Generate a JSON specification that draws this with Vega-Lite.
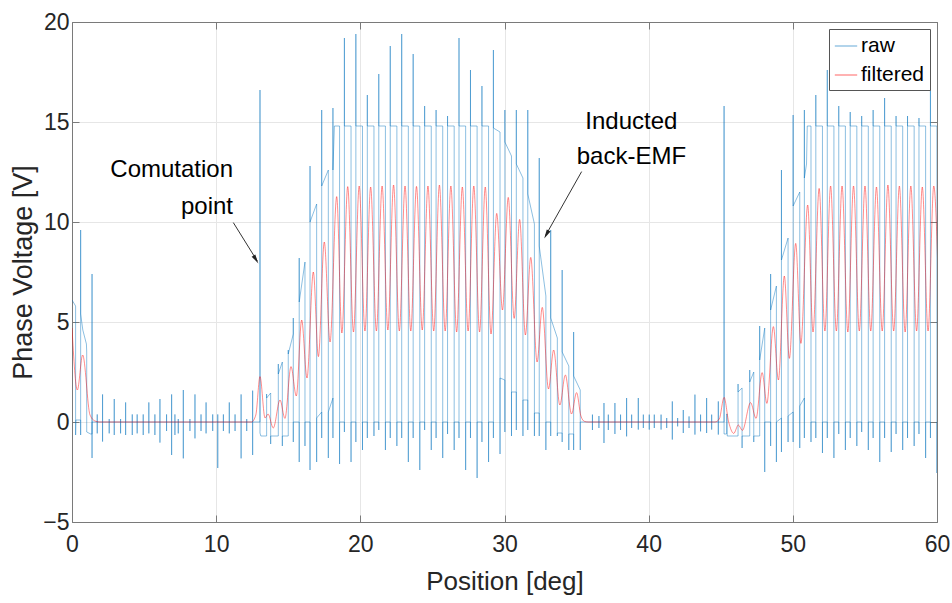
{
"$schema": "https://vega.github.io/schema/vega-lite/v6.json",
"width": 865, "height": 500,
"autosize": {"type": "none"},
"padding": {"left": 72, "top": 22, "right": 15, "bottom": 81},
"background": "white",
"datasets": {
"raw": [
{"x":0,"y":6.1},{"x":0.25,"y":5.8},{"x":0.25,"y":-0.65},{"x":0.27,"y":0.1},{"x":0.6,"y":0.1},{"x":0.6,"y":-0.65},{"x":0.6,"y":9.6},{"x":0.6,"y":5.4},{"x":0.75,"y":4.6},{"x":1.0,"y":3.9},{"x":1.02,"y":3.5},{"x":1.02,"y":-0.5},{"x":1.3,"y":-0.6},{"x":1.39,"y":-0.6},{"x":1.39,"y":7.4},{"x":1.39,"y":-1.8},{"x":1.39,"y":0},
{"x":1.75,"y":0},{"x":1.75,"y":0.38},{"x":1.75,"y":-0.57},{"x":1.75,"y":0},
{"x":2.12,"y":0},{"x":2.12,"y":1.38},{"x":2.12,"y":-0.98},{"x":2.12,"y":0},
{"x":2.58,"y":0},{"x":2.58,"y":0.15},{"x":2.58,"y":-0.57},{"x":2.58,"y":0},
{"x":2.93,"y":0},{"x":2.93,"y":1.15},{"x":2.93,"y":-0.65},{"x":2.93,"y":0},
{"x":3.37,"y":0},{"x":3.37,"y":0.15},{"x":3.37,"y":-0.57},{"x":3.37,"y":0},
{"x":3.72,"y":0},{"x":3.72,"y":0.98},{"x":3.72,"y":-0.65},{"x":3.72,"y":0},
{"x":4.18,"y":0},{"x":4.18,"y":0.38},{"x":4.18,"y":-0.65},{"x":4.18,"y":0},
{"x":4.52,"y":0},{"x":4.52,"y":0.38},{"x":4.52,"y":-0.57},{"x":4.52,"y":0},
{"x":4.94,"y":0},{"x":4.94,"y":0.38},{"x":4.94,"y":-0.65},{"x":4.94,"y":0},
{"x":5.33,"y":0},{"x":5.33,"y":0.98},{"x":5.33,"y":-0.57},{"x":5.33,"y":0},
{"x":5.75,"y":0},{"x":5.75,"y":0.38},{"x":5.75,"y":-0.65},{"x":5.75,"y":0},
{"x":6.1,"y":0},{"x":6.1,"y":1.15},{"x":6.1,"y":-1.03},{"x":6.1,"y":0},
{"x":6.56,"y":0},{"x":6.56,"y":0.38},{"x":6.56,"y":-0.45},{"x":6.56,"y":0},
{"x":6.91,"y":0},{"x":6.91,"y":1.38},{"x":6.91,"y":-1.65},{"x":6.91,"y":0},
{"x":7.14,"y":0},{"x":7.14,"y":0.38},{"x":7.14,"y":-0.65},{"x":7.14,"y":0},
{"x":7.37,"y":0},{"x":7.37,"y":0.15},{"x":7.37,"y":-0.57},{"x":7.37,"y":0},
{"x":7.72,"y":0},{"x":7.72,"y":1.6},{"x":7.72,"y":-1.82},{"x":7.72,"y":0},
{"x":8.18,"y":0},{"x":8.18,"y":0.15},{"x":8.18,"y":-0.45},{"x":8.18,"y":0},
{"x":8.53,"y":0},{"x":8.53,"y":1.38},{"x":8.53,"y":-0.82},{"x":8.53,"y":0},
{"x":8.95,"y":0},{"x":8.95,"y":0.38},{"x":8.95,"y":-0.45},{"x":8.95,"y":0},
{"x":9.3,"y":0},{"x":9.3,"y":0.98},{"x":9.3,"y":-0.57},{"x":9.3,"y":0},
{"x":9.76,"y":0},{"x":9.76,"y":0.38},{"x":9.76,"y":-0.45},{"x":9.76,"y":0},
{"x":10.11,"y":0},{"x":10.11,"y":0.38},{"x":10.11,"y":-2.3},{"x":10.11,"y":0},
{"x":10.5,"y":0},{"x":10.5,"y":0.38},{"x":10.5,"y":-0.45},{"x":10.5,"y":0},
{"x":10.91,"y":0},{"x":10.91,"y":0.98},{"x":10.91,"y":-0.57},{"x":10.91,"y":0},
{"x":11.31,"y":0},{"x":11.31,"y":0.38},{"x":11.31,"y":-0.45},{"x":11.31,"y":0},
{"x":11.73,"y":0},{"x":11.73,"y":1.38},{"x":11.73,"y":-1.82},{"x":11.73,"y":0},
{"x":12.12,"y":0},{"x":12.12,"y":0.15},{"x":12.12,"y":-0.45},{"x":12.12,"y":0},
{"x":12.53,"y":0},{"x":12.53,"y":1.57},{"x":12.53,"y":-1.65},{"x":12.53,"y":0},
{"x":13.04,"y":0},{"x":13.04,"y":16.6},{"x":13.04,"y":-0.55},{"x":13.1,"y":-0.7},{"x":13.5,"y":-0.7},
{"x":13.5,"y":1.4},{"x":13.5,"y":1.2},{"x":13.78,"y":1.45},{"x":13.78,"y":-1.1},{"x":13.78,"y":-0.7},{"x":14.31,"y":-0.7},
{"x":14.31,"y":2.9},{"x":14.31,"y":2.4},{"x":14.59,"y":3.0},{"x":14.59,"y":-1.2},{"x":14.59,"y":-0.7},{"x":15.0,"y":-0.7},
{"x":15.0,"y":3.6},{"x":15.0,"y":3.4},{"x":15.35,"y":4.4},{"x":15.35,"y":5.2},{"x":15.35,"y":-1.0},{"x":15.35,"y":0},{"x":15.76,"y":0},
{"x":15.76,"y":-2.0},{"x":15.76,"y":8.2},{"x":15.76,"y":6.0},{"x":16.16,"y":8.0},{"x":16.16,"y":-1.2},{"x":16.16,"y":0},{"x":16.51,"y":0},
{"x":16.51,"y":-2.4},{"x":16.51,"y":12.8},{"x":16.51,"y":10.0},{"x":16.97,"y":10.9},{"x":16.97,"y":-2.0},{"x":16.97,"y":0.2},{"x":17.32,"y":0.5},
{"x":17.32,"y":-0.8},{"x":17.32,"y":15.6},{"x":17.32,"y":11.8},{"x":17.78,"y":12.6},{"x":17.78,"y":-1.8},{"x":17.78,"y":0.5},{"x":18.1,"y":1.2},
{"x":18.1,"y":-0.8},{"x":18.1,"y":15.7},{"x":18.1,"y":12.6},{"x":18.2,"y":14.8},{"x":18.56,"y":14.8},{"x":18.56,"y":-2.1},{"x":18.56,"y":0},
{"x":18.895,"y":0},{"x":18.895,"y":-0.5},{"x":18.895,"y":19.2},{"x":18.895,"y":14.8},{"x":19.355,"y":14.8},{"x":19.355,"y":-2.0},{"x":19.355,"y":0},
{"x":19.69,"y":0},{"x":19.69,"y":-1.0},{"x":19.69,"y":19.4},{"x":19.69,"y":14.8},{"x":20.15,"y":14.8},{"x":20.15,"y":-1.4},{"x":20.15,"y":0},
{"x":20.485,"y":0},{"x":20.485,"y":-0.8},{"x":20.485,"y":16.35},{"x":20.485,"y":14.8},{"x":20.945,"y":14.8},{"x":20.945,"y":-0.7},{"x":20.945,"y":0},
{"x":21.28,"y":0},{"x":21.28,"y":-0.4},{"x":21.28,"y":17.4},{"x":21.28,"y":14.8},{"x":21.74,"y":14.8},{"x":21.74,"y":-1.4},{"x":21.74,"y":0},
{"x":22.075,"y":0},{"x":22.075,"y":-0.8},{"x":22.075,"y":18.8},{"x":22.075,"y":14.8},{"x":22.535,"y":14.8},{"x":22.535,"y":-1.2},{"x":22.535,"y":0},
{"x":22.87,"y":0},{"x":22.87,"y":-0.8},{"x":22.87,"y":19.4},{"x":22.87,"y":14.8},{"x":23.33,"y":14.8},{"x":23.33,"y":-2.0},{"x":23.33,"y":0},
{"x":23.665,"y":0},{"x":23.665,"y":-0.8},{"x":23.665,"y":18.4},{"x":23.665,"y":14.8},{"x":24.125,"y":14.8},{"x":24.125,"y":-2.4},{"x":24.125,"y":0},
{"x":24.46,"y":0},{"x":24.46,"y":-0.4},{"x":24.46,"y":15.8},{"x":24.46,"y":14.8},{"x":24.92,"y":14.8},{"x":24.92,"y":-1.4},{"x":24.92,"y":0},
{"x":25.255,"y":0},{"x":25.255,"y":-0.8},{"x":25.255,"y":15.6},{"x":25.255,"y":14.8},{"x":25.715,"y":14.8},{"x":25.715,"y":-1.8},{"x":25.715,"y":0},
{"x":26.05,"y":0},{"x":26.05,"y":-0.6},{"x":26.05,"y":15.3},{"x":26.05,"y":14.8},{"x":26.51,"y":14.8},{"x":26.51,"y":-1.4},{"x":26.51,"y":0},
{"x":26.845,"y":0},{"x":26.845,"y":-0.8},{"x":26.845,"y":19.2},{"x":26.845,"y":14.8},{"x":27.305,"y":14.8},{"x":27.305,"y":-2.4},{"x":27.305,"y":0},
{"x":27.64,"y":0},{"x":27.64,"y":-0.8},{"x":27.64,"y":17.6},{"x":27.64,"y":14.8},{"x":28.1,"y":14.8},{"x":28.1,"y":-2.8},{"x":28.1,"y":0},
{"x":28.435,"y":0},{"x":28.435,"y":-1.0},{"x":28.435,"y":16.8},{"x":28.435,"y":14.8},{"x":28.895,"y":14.8},{"x":28.895,"y":-2.0},{"x":28.895,"y":0},
{"x":29.23,"y":0},{"x":29.23,"y":-0.8},{"x":29.23,"y":18.6},{"x":29.23,"y":14.7},{"x":29.69,"y":14.5},{"x":29.69,"y":-1.6},{"x":29.69,"y":2.2},{"x":30.025,"y":2.1},
{"x":30.025,"y":-0.5},{"x":30.025,"y":15.6},{"x":30.025,"y":14.0},{"x":30.485,"y":13.3},{"x":30.485,"y":-0.7},{"x":30.485,"y":1.5},{"x":30.82,"y":1.5},
{"x":30.82,"y":-0.4},{"x":30.82,"y":15.6},{"x":30.82,"y":12.9},{"x":31.28,"y":12.2},{"x":31.28,"y":-0.7},{"x":31.28,"y":1.1},{"x":31.615,"y":1.1},
{"x":31.615,"y":-0.4},{"x":31.615,"y":15.6},{"x":31.615,"y":11.4},{"x":32.075,"y":9.9},{"x":32.075,"y":-0.7},{"x":32.075,"y":0.45},{"x":32.41,"y":0.45},
{"x":32.41,"y":-0.7},{"x":32.41,"y":13.2},{"x":32.41,"y":8.8},{"x":32.87,"y":6.3},{"x":32.87,"y":-1.4},{"x":32.87,"y":0},{"x":33.205,"y":0},
{"x":33.205,"y":-0.7},{"x":33.205,"y":9.6},{"x":33.205,"y":5.2},{"x":33.665,"y":4.2},{"x":33.665,"y":-0.7},{"x":33.665,"y":-0.55},{"x":34.0,"y":-0.55},
{"x":34.0,"y":-1.0},{"x":34.0,"y":7.6},{"x":34.0,"y":3.5},{"x":34.46,"y":2.8},{"x":34.46,"y":-1.4},{"x":34.46,"y":-0.6},{"x":34.795,"y":-0.6},
{"x":34.795,"y":-1.4},{"x":34.795,"y":4.5},{"x":34.795,"y":2.3},{"x":35.255,"y":1.6},{"x":35.255,"y":-1.4},{"x":35.255,"y":0},
{"x":36.1,"y":0},{"x":36.1,"y":0.37},{"x":36.1,"y":-0.4},{"x":36.1,"y":0},
{"x":36.55,"y":0},{"x":36.55,"y":0.3},{"x":36.55,"y":-0.3},{"x":36.55,"y":0},
{"x":36.9,"y":0},{"x":36.9,"y":0.95},{"x":36.9,"y":-1.05},{"x":36.9,"y":0},
{"x":37.2,"y":0},{"x":37.2,"y":0.37},{"x":37.2,"y":-0.4},{"x":37.2,"y":0},
{"x":37.66,"y":0},{"x":37.66,"y":0.95},{"x":37.66,"y":-0.6},{"x":37.66,"y":0},
{"x":38.05,"y":0},{"x":38.05,"y":0.37},{"x":38.05,"y":-0.4},{"x":38.05,"y":0},
{"x":38.47,"y":0},{"x":38.47,"y":1.2},{"x":38.47,"y":-0.72},{"x":38.47,"y":0},
{"x":38.82,"y":0},{"x":38.82,"y":0.37},{"x":38.82,"y":-0.3},{"x":38.82,"y":0},
{"x":39.28,"y":0},{"x":39.28,"y":1.2},{"x":39.28,"y":-0.38},{"x":39.28,"y":0},
{"x":39.63,"y":0},{"x":39.63,"y":0.37},{"x":39.63,"y":-0.3},{"x":39.63,"y":0},
{"x":40.04,"y":0},{"x":40.04,"y":0.37},{"x":40.04,"y":-0.38},{"x":40.04,"y":0},
{"x":40.39,"y":0},{"x":40.39,"y":0.37},{"x":40.39,"y":-0.3},{"x":40.39,"y":0},
{"x":40.86,"y":0},{"x":40.86,"y":0.37},{"x":40.86,"y":-0.38},{"x":40.86,"y":0},
{"x":41.25,"y":0},{"x":41.25,"y":0.2},{"x":41.25,"y":-0.3},{"x":41.25,"y":0},
{"x":41.64,"y":0},{"x":41.64,"y":1.03},{"x":41.64,"y":-0.88},{"x":41.64,"y":0},
{"x":42.01,"y":0},{"x":42.01,"y":0.2},{"x":42.01,"y":-0.22},{"x":42.01,"y":0},
{"x":42.4,"y":0},{"x":42.4,"y":0.6},{"x":42.4,"y":-0.55},{"x":42.4,"y":0},
{"x":42.8,"y":0},{"x":42.8,"y":0.28},{"x":42.8,"y":-0.3},{"x":42.8,"y":0},
{"x":43.21,"y":0},{"x":43.21,"y":1.37},{"x":43.21,"y":-0.63},{"x":43.21,"y":0},
{"x":43.6,"y":0},{"x":43.6,"y":0.37},{"x":43.6,"y":-0.47},{"x":43.6,"y":0},
{"x":44.02,"y":0},{"x":44.02,"y":1.2},{"x":44.02,"y":-0.55},{"x":44.02,"y":0},
{"x":44.37,"y":0},{"x":44.37,"y":0.37},{"x":44.37,"y":-0.38},{"x":44.37,"y":0},
{"x":44.83,"y":0},{"x":44.83,"y":1.03},{"x":44.83,"y":-0.63},{"x":44.83,"y":0},
{"x":45.23,"y":0},{"x":45.23,"y":15.8},{"x":45.23,"y":-0.6},{"x":45.4,"y":-0.6},{"x":45.4,"y":0.4},{"x":45.45,"y":0.4},{"x":45.45,"y":-0.7},{"x":46.2,"y":-0.7},
{"x":46.2,"y":1.9},{"x":46.2,"y":1.5},{"x":46.48,"y":1.7},{"x":46.48,"y":-1.3},{"x":46.48,"y":-0.7},{"x":47.01,"y":-0.7},
{"x":47.01,"y":2.6},{"x":47.01,"y":2.0},{"x":47.29,"y":2.5},{"x":47.29,"y":-1.0},{"x":47.29,"y":-0.7},{"x":47.7,"y":-0.7},
{"x":47.7,"y":4.8},{"x":47.7,"y":3.1},{"x":48.05,"y":4.7},{"x":48.05,"y":-2.5},{"x":48.05,"y":0},{"x":48.46,"y":0},
{"x":48.46,"y":-1.2},{"x":48.46,"y":7.4},{"x":48.46,"y":5.6},{"x":48.86,"y":6.8},{"x":48.86,"y":-2.0},{"x":48.86,"y":0},{"x":49.21,"y":0.2},
{"x":49.21,"y":-1.5},{"x":49.21,"y":12.6},{"x":49.21,"y":8.1},{"x":49.67,"y":9.2},{"x":49.67,"y":-1.0},{"x":49.67,"y":0.3},{"x":50.02,"y":0.5},
{"x":50.02,"y":-1.0},{"x":50.02,"y":15.35},{"x":50.02,"y":10.8},{"x":50.48,"y":11.5},{"x":50.48,"y":-1.3},{"x":50.48,"y":0.8},{"x":50.8,"y":1.2},
{"x":50.8,"y":-0.8},{"x":50.8,"y":15.6},{"x":50.8,"y":12.2},{"x":50.95,"y":12.9},{"x":51.0,"y":14.8},{"x":51.26,"y":14.8},{"x":51.26,"y":-1.0},{"x":51.26,"y":0},
{"x":51.595,"y":0},{"x":51.595,"y":-0.8},{"x":51.595,"y":16.35},{"x":51.595,"y":14.8},{"x":52.055,"y":14.8},{"x":52.055,"y":-1.55},{"x":52.055,"y":0},
{"x":52.39,"y":0},{"x":52.39,"y":-0.8},{"x":52.39,"y":17.6},{"x":52.39,"y":14.8},{"x":52.85,"y":14.8},{"x":52.85,"y":-1.8},{"x":52.85,"y":0},
{"x":53.185,"y":0},{"x":53.185,"y":-0.6},{"x":53.185,"y":15.8},{"x":53.185,"y":14.8},{"x":53.645,"y":14.8},{"x":53.645,"y":-1.4},{"x":53.645,"y":0},
{"x":53.98,"y":0},{"x":53.98,"y":-0.8},{"x":53.98,"y":15.5},{"x":53.98,"y":14.8},{"x":54.44,"y":14.8},{"x":54.44,"y":-1.2},{"x":54.44,"y":0},
{"x":54.775,"y":0},{"x":54.775,"y":-0.5},{"x":54.775,"y":15.3},{"x":54.775,"y":14.8},{"x":55.235,"y":14.8},{"x":55.235,"y":-1.4},{"x":55.235,"y":0},
{"x":55.57,"y":0},{"x":55.57,"y":-0.8},{"x":55.57,"y":15.6},{"x":55.57,"y":14.8},{"x":56.03,"y":14.8},{"x":56.03,"y":-2.0},{"x":56.03,"y":0},
{"x":56.365,"y":0},{"x":56.365,"y":-0.8},{"x":56.365,"y":16.2},{"x":56.365,"y":14.8},{"x":56.825,"y":14.8},{"x":56.825,"y":-1.5},{"x":56.825,"y":0},
{"x":57.16,"y":0},{"x":57.16,"y":-0.6},{"x":57.16,"y":15.3},{"x":57.16,"y":14.8},{"x":57.62,"y":14.8},{"x":57.62,"y":-1.4},{"x":57.62,"y":0},
{"x":57.955,"y":0},{"x":57.955,"y":-0.8},{"x":57.955,"y":15.3},{"x":57.955,"y":14.8},{"x":58.415,"y":14.8},{"x":58.415,"y":-1.2},{"x":58.415,"y":0},
{"x":58.75,"y":0},{"x":58.75,"y":-0.6},{"x":58.75,"y":15.2},{"x":58.75,"y":14.8},{"x":59.21,"y":14.8},{"x":59.21,"y":-1.8},{"x":59.21,"y":0},
{"x":59.545,"y":0},{"x":59.545,"y":-0.8},{"x":59.545,"y":19.4},{"x":59.545,"y":14.8},{"x":59.995,"y":14.8},{"x":59.995,"y":-2.55},{"x":59.995,"y":0}
],
"filt": [
{"x":0,"y":4.7},{"x":0.37,"y":1.6},{"x":0.74,"y":3.35},{"x":1.25,"y":0.35},{"x":1.6,"y":0.05},{"x":1.9,"y":0},{"x":12.45,"y":0},{"x":12.75,"y":0.35},
{"x":13.04,"y":2.27},{"x":13.39,"y":0.2},{"x":13.6,"y":0.4},{"x":13.96,"y":-0.3},{"x":14.43,"y":1.1},{"x":14.77,"y":0.18},{"x":15.19,"y":2.77},{"x":15.56,"y":1.3},
{"x":15.93,"y":5.1},{"x":16.3,"y":2.2},{"x":16.74,"y":7.5},{"x":17.09,"y":3.27},{"x":17.5,"y":9.0},{"x":17.9,"y":4.0},{"x":18.36,"y":11.27},{"x":18.72,"y":4.45},
{"x":19.125,"y":11.77},{"x":19.525,"y":4.5},{"x":19.92,"y":11.8},{"x":20.32,"y":4.55},{"x":20.715,"y":11.75},{"x":21.115,"y":4.55},{"x":21.51,"y":11.8},{"x":21.91,"y":4.6},
{"x":22.305,"y":11.85},{"x":22.705,"y":4.55},{"x":23.1,"y":11.8},{"x":23.5,"y":4.55},{"x":23.895,"y":11.78},{"x":24.295,"y":4.6},{"x":24.69,"y":11.8},{"x":25.09,"y":4.55},
{"x":25.485,"y":11.85},{"x":25.885,"y":4.55},{"x":26.28,"y":11.8},{"x":26.68,"y":4.5},{"x":27.075,"y":11.75},{"x":27.475,"y":4.55},{"x":27.87,"y":11.8},{"x":28.27,"y":4.5},
{"x":28.665,"y":11.75},{"x":29.065,"y":4.4},{"x":29.46,"y":10.43},{"x":29.86,"y":5.6},{"x":30.26,"y":11.23},{"x":30.67,"y":5.18},{"x":31.05,"y":10.13},{"x":31.45,"y":4.35},
{"x":31.82,"y":8.23},{"x":32.26,"y":3.0},{"x":32.62,"y":5.73},{"x":33.05,"y":1.65},{"x":33.41,"y":3.6},{"x":33.84,"y":0.85},{"x":34.22,"y":2.35},{"x":34.65,"y":0.4},
{"x":35.0,"y":1.47},{"x":35.3,"y":0.3},{"x":35.55,"y":0.03},{"x":35.8,"y":0},{"x":44.6,"y":0},{"x":44.9,"y":0.15},{"x":45.23,"y":1.23},{"x":45.55,"y":0.0},
{"x":45.9,"y":-0.57},{"x":46.22,"y":-0.15},{"x":46.5,"y":-0.42},{"x":47.07,"y":0.97},{"x":47.45,"y":0.18},{"x":47.87,"y":2.47},{"x":48.2,"y":0.93},{"x":48.65,"y":4.77},
{"x":49.0,"y":2.1},{"x":49.41,"y":7.3},{"x":49.76,"y":3.18},{"x":50.2,"y":8.93},{"x":50.56,"y":3.93},{"x":51.03,"y":10.85},{"x":51.4,"y":4.5},{"x":51.825,"y":11.68},
{"x":52.225,"y":4.55},{"x":52.62,"y":11.8},{"x":53.02,"y":4.55},{"x":53.415,"y":11.8},{"x":53.815,"y":4.5},{"x":54.21,"y":11.8},{"x":54.61,"y":4.55},{"x":55.005,"y":11.8},
{"x":55.405,"y":4.55},{"x":55.8,"y":11.75},{"x":56.2,"y":4.55},{"x":56.595,"y":11.85},{"x":56.995,"y":4.55},{"x":57.39,"y":11.8},{"x":57.79,"y":4.5},{"x":58.185,"y":11.8},
{"x":58.585,"y":4.55},{"x":58.98,"y":11.75},{"x":59.38,"y":4.55},{"x":59.775,"y":11.8},{"x":60.175,"y":4.55}
],
"txtR": [{"x":11.17,"y":12.6,"t":"Comutation"},{"x":11.17,"y":10.75,"t":"point"}],
"txtC": [{"x":38.8,"y":15.0,"t":"Inducted"},{"x":38.8,"y":13.25,"t":"back-EMF"}],
"arrows": [{"x":11.19,"y":9.97,"x2":12.85,"y2":8.05},{"x":35.35,"y":12.52,"x2":32.83,"y2":9.3}],
"head1": [{"x":12.7,"y":8.19}],
"head2": [{"x":32.96,"y":9.44}]
},
"layer": [
{"data": {"name": "raw"},
 "mark": {"type": "line", "strokeWidth": 1, "opacity": 0.45, "clip": true, "interpolate": "linear"},
 "encoding": {
  "x": {"field": "x", "type": "quantitative", "scale": {"domain": [0, 60], "nice": false, "zero": false},
        "axis": {"orient": "bottom", "values": [0,10,20,30,40,50,60], "title": "Position [deg]", "grid": true, "labelFlush": false, "tickSize": -7, "labelPadding": 18, "titlePadding": 12, "titleFontSize": 26, "format": "d"}},
  "y": {"field": "y", "type": "quantitative", "scale": {"domain": [-5, 20], "nice": false, "zero": false},
        "axis": {"orient": "left", "values": [-5,0,5,10,15,20], "title": "Phase Voltage [V]", "titleFontSize": 27, "grid": true, "labelFlush": false, "tickSize": -7, "labelPadding": 10, "titlePadding": 5, "format": "d"}},
  "color": {"datum": "raw", "scale": {"domain": ["raw", "filtered"], "range": ["#0072BD", "#FF0000"]}, "legend": {"title": null}},
  "order": {"value": null}
 }},
{"data": {"name": "filt"},
 "mark": {"type": "line", "strokeWidth": 1, "opacity": 0.45, "clip": true, "interpolate": "monotone"},
 "encoding": {
  "x": {"field": "x", "type": "quantitative", "axis": {"orient": "top", "values": [0,10,20,30,40,50,60], "labels": false, "title": null, "grid": false, "tickSize": -7}},
  "y": {"field": "y", "type": "quantitative", "axis": {"orient": "right", "values": [-5,0,5,10,15,20], "labels": false, "title": null, "grid": false, "tickSize": -7}},
  "color": {"datum": "filtered", "legend": {"title": null}}
 }},
{"data": {"name": "arrows"},
 "mark": {"type": "rule", "color": "#333333", "strokeWidth": 1},
 "encoding": {
  "x": {"field": "x", "type": "quantitative", "axis": null},
  "y": {"field": "y", "type": "quantitative", "axis": null},
  "x2": {"field": "x2"}, "y2": {"field": "y2"}
 }},
{"data": {"name": "head1"},
 "mark": {"type": "point", "shape": "M0,-1L0.35,0.5L-0.35,0.5Z", "filled": true, "color": "#222222", "opacity": 1, "size": 150, "angle": 148},
 "encoding": {"x": {"field": "x", "type": "quantitative", "axis": null}, "y": {"field": "y", "type": "quantitative", "axis": null}}},
{"data": {"name": "head2"},
 "mark": {"type": "point", "shape": "M0,-1L0.35,0.5L-0.35,0.5Z", "filled": true, "color": "#222222", "opacity": 1, "size": 150, "angle": 209},
 "encoding": {"x": {"field": "x", "type": "quantitative", "axis": null}, "y": {"field": "y", "type": "quantitative", "axis": null}}},
{"data": {"name": "txtR"},
 "mark": {"type": "text", "align": "right", "baseline": "middle", "font": "Liberation Sans", "fontSize": 24, "color": "#000000"},
 "encoding": {"x": {"field": "x", "type": "quantitative", "axis": null}, "y": {"field": "y", "type": "quantitative", "axis": null}, "text": {"field": "t"}}},
{"data": {"name": "txtC"},
 "mark": {"type": "text", "align": "center", "baseline": "middle", "font": "Liberation Sans", "fontSize": 24, "color": "#000000"},
 "encoding": {"x": {"field": "x", "type": "quantitative", "axis": null}, "y": {"field": "y", "type": "quantitative", "axis": null}, "text": {"field": "t"}}}
],
"resolve": {"axis": {"x": "independent", "y": "independent"}},
"config": {
 "view": {"stroke": "#7a7a7a", "strokeWidth": 1},
 "font": "Liberation Sans",
 "axis": {"labelFont": "Liberation Sans", "labelFontSize": 23, "labelColor": "#262626", "titleFont": "Liberation Sans", "titleColor": "#262626", "titleFontWeight": "normal", "gridColor": "#e6e6e6", "gridWidth": 1, "domainColor": "#7a7a7a", "tickColor": "#7a7a7a", "labelOverlap": false},
 "legend": {"orient": "top-right", "offset": 7, "labelFont": "Liberation Sans", "labelFontSize": 21, "labelColor": "#000000", "strokeColor": "#555555", "fillColor": "white", "padding": 5, "symbolType": "stroke", "symbolSize": 500, "symbolStrokeWidth": 1, "rowPadding": 7, "labelOffset": 3, "symbolOpacity": 0.6}
}
}
